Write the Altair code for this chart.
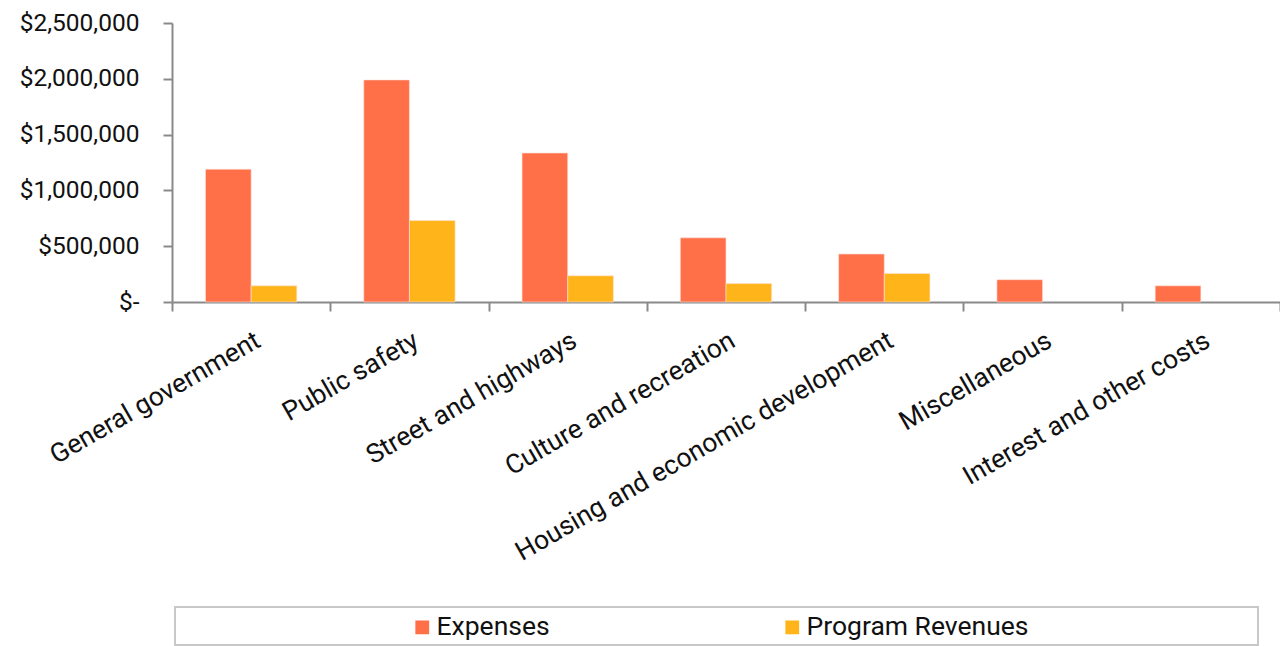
import altair as alt
import pandas as pd

categories = ["General government", "Public safety", "Street and highways",
              "Culture and recreation", "Housing and economic development",
              "Miscellaneous", "Interest and other costs"]
expenses = [1190000, 1990000, 1335000, 575000, 430000, 200000, 145000]
revenues = [145000, 730000, 235000, 165000, 255000, 0, 0]
series = ["Expenses", "Program Revenues"]
colors = ["#FF7049", "#FFB519"]

rows = []
for c, e, r in zip(categories, expenses, revenues):
    rows.append({"category": c, "series": series[0], "value": e})
    rows.append({"category": c, "series": series[1], "value": r})
df = pd.DataFrame(rows)

FONT = "Roboto"
AXIS_COLOR = "#8A8A8A"

bars = alt.Chart(df).transform_filter("datum.value > 0").mark_bar(
    stroke="#FFE3DA", strokeWidth=0.6
).encode(
    x=alt.X("category:N", sort=categories,
            scale=alt.Scale(domain=categories, paddingInner=0, paddingOuter=0),
            axis=alt.Axis(title=None, labelAngle=-30, labelFont=FONT, labelFontSize=26.5,
                          labelColor="#111111", tickBand="extent", tickSize=9,
                          tickColor=AXIS_COLOR, tickWidth=2, domainColor=AXIS_COLOR,
                          domainWidth=2, labelPadding=16, labelLimit=600)),
    xOffset=alt.XOffset("series:N", sort=series,
                        scale=alt.Scale(domain=series, paddingInner=0, paddingOuter=0.733)),
    y=alt.Y("value:Q", scale=alt.Scale(domain=[0, 2500000], nice=False),
            axis=alt.Axis(title=None, values=[0, 500000, 1000000, 1500000, 2000000, 2500000],
                          labelExpr="datum.value == 0 ? '$-' : '$' + format(datum.value, ',')",
                          labelFont=FONT, labelFontSize=24.5, labelColor="#111111",
                          tickSize=9, tickColor=AXIS_COLOR, tickWidth=2,
                          domainColor=AXIS_COLOR, domainWidth=2, labelPadding=24,
                          grid=False)),
    color=alt.Color("series:N", sort=series,
                    scale=alt.Scale(domain=series, range=colors),
                    legend=alt.Legend(title=None, orient="none", legendX=237, legendY=591,
                                      direction="horizontal", columns=2, columnPadding=229,
                                      symbolType="square", symbolSize=190, symbolStrokeWidth=0,
                                      labelFont=FONT, labelFontSize=26.5, labelColor="#111111",
                                      labelOffset=1, padding=0, labelLimit=400)),
)

frame = alt.Chart(pd.DataFrame({"k": [1]})).mark_rect(
    fill="white", fillOpacity=0, stroke="#C8C8C8", strokeWidth=2
).encode(x=alt.value(3), x2=alt.value(1086), y=alt.value(584), y2=alt.value(622))

chart = alt.layer(frame, bars).properties(
    width=1108, height=279,
    autosize=alt.AutoSizeParams(type="none"),
    padding={"left": 164, "top": 15, "right": 0, "bottom": 344},
    background="white",
).configure_view(stroke=None)

chart.save("out.html", embed_options={"renderer": "svg", "actions": False})
